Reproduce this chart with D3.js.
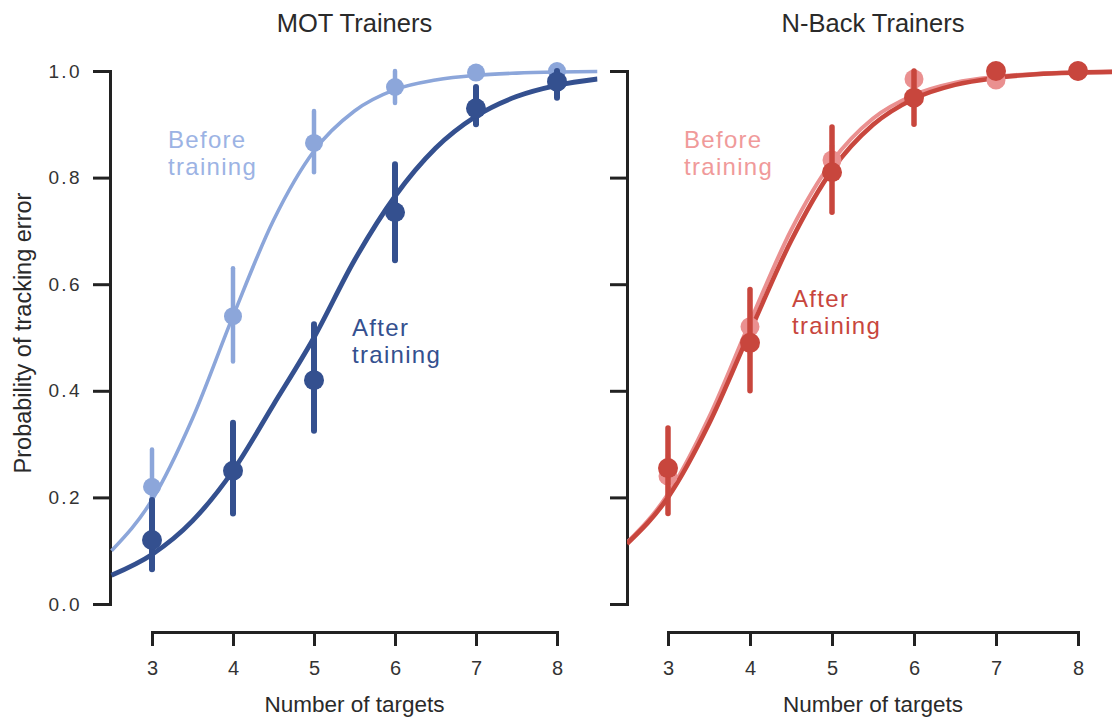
<!DOCTYPE html>
<html>
<head>
<meta charset="utf-8">
<script src="https://cdn.jsdelivr.net/npm/d3@7"></script>
<style>
  body { margin: 0; background: #fff; }
  svg { display: block; }
  .narrow { font-family: "Liberation Sans Narrow", "Arial Narrow", "Liberation Sans", sans-serif; }
</style>
</head>
<body>
<svg id="chart" width="1112" height="717"></svg>
<script>
// Number of targets tracked
const targets = [3, 4, 5, 6, 7, 8];
const yTicks = [0, 0.2, 0.4, 0.6, 0.8, 1.0];

// MOT trainers: observed error probability with error-bar bounds
const motBefore      = [0.22, 0.54, 0.865, 0.97, 0.997, 1.0];
const motBeforeLow   = [0.15, 0.455, 0.81, 0.94, 0.99, 0.995];
const motBeforeHigh  = [0.29, 0.63, 0.925, 1.0, 1.0, 1.0];
const motAfter       = [0.12, 0.25, 0.42, 0.735, 0.93, 0.98];
const motAfterLow    = [0.065, 0.17, 0.325, 0.645, 0.9, 0.95];
const motAfterHigh   = [0.195, 0.34, 0.525, 0.825, 0.97, 1.0];

// N-Back trainers
const nbBefore       = [0.24, 0.52, 0.833, 0.985, 0.983, 1.0];
const nbBeforeLow    = [0.2, 0.47, 0.8, 0.97, 0.975, 0.995];
const nbBeforeHigh   = [0.28, 0.57, 0.86, 1.0, 0.99, 1.0];
const nbAfter        = [0.255, 0.49, 0.81, 0.95, 1.0, 1.0];
const nbAfterLow     = [0.17, 0.40, 0.735, 0.90, 0.99, 0.99];
const nbAfterHigh    = [0.33, 0.59, 0.895, 1.0, 1.0, 1.0];

// Fitted psychometric curves, sampled along the x range
const fitX            = [2.5, 3, 3.5, 4, 4.5, 5, 5.5, 6, 6.5, 7, 7.5, 8, 8.5];
const motBeforeFit    = [0.10, 0.195, 0.348, 0.54, 0.72, 0.85, 0.925, 0.965, 0.983, 0.992, 0.996, 0.998, 0.999];
const motAfterFit     = [0.054, 0.093, 0.156, 0.25, 0.374, 0.50, 0.645, 0.765, 0.855, 0.915, 0.952, 0.973, 0.985];
const nbBeforeFit     = [0.115, 0.206, 0.350, 0.529, 0.701, 0.830, 0.911, 0.955, 0.978, 0.989, 0.995, 0.9975, 0.9988];
const nbAfterFit      = [0.113, 0.200, 0.338, 0.511, 0.681, 0.814, 0.899, 0.948, 0.974, 0.987, 0.994, 0.997, 0.9985];

const colors = {
  motBefore: "#8ca6da",
  motAfter: "#34508f",
  nbBefore: "#ea9090",
  nbAfter: "#c8463d"
};

const sans = "Liberation Sans, Arial, Helvetica, sans-serif";
const svg = d3.select("#chart");
const y = d3.scaleLinear().domain([0, 1]).range([604, 71]);

const panels = [
  {
    title: "MOT Trainers",
    x: d3.scaleLinear().domain([3, 8]).range([152, 557]),
    yAxisX: 110,
    showYLabels: true,
    series: [
      { fitY: motBeforeFit, v: motBefore, lo: motBeforeLow, hi: motBeforeHigh, color: colors.motBefore, lw: 3.6, r: 9, ew: 4.5 },
      { fitY: motAfterFit, v: motAfter, lo: motAfterLow, hi: motAfterHigh, color: colors.motAfter, lw: 4.8, r: 10, ew: 6 }
    ],
    labels: [
      { lines: ["Before", "training"], x: 168, y: 148, color: "#9cb3e4" },
      { lines: ["After", "training"], x: 352, y: 336, color: "#34508f" }
    ]
  },
  {
    title: "N-Back Trainers",
    x: d3.scaleLinear().domain([3, 8]).range([668, 1078]),
    yAxisX: 627,
    showYLabels: false,
    series: [
      { fitY: nbBeforeFit, v: nbBefore, lo: nbBeforeLow, hi: nbBeforeHigh, color: colors.nbBefore, lw: 4, r: 9.5, ew: 4.5 },
      { fitY: nbAfterFit, v: nbAfter, lo: nbAfterLow, hi: nbAfterHigh, color: colors.nbAfter, lw: 4.6, r: 10, ew: 5.5 }
    ],
    labels: [
      { lines: ["Before", "training"], x: 684, y: 148, color: "#f09a9a" },
      { lines: ["After", "training"], x: 792, y: 307, color: "#c8463d" }
    ]
  }
];

panels.forEach(p => {
  const x = p.x;

  // Panel title
  svg.append("text")
    .attr("x", (x(3) + x(8)) / 2)
    .attr("y", 32)
    .attr("text-anchor", "middle")
    .attr("font-family", sans)
    .attr("font-size", 25.5)
    .attr("fill", "#2a2a2a")
    .text(p.title);

  // Y axis
  const yAxis = d3.axisLeft(y).tickValues(yTicks).tickSize(17).tickSizeOuter(17).tickPadding(11)
    .tickFormat(p.showYLabels ? d3.format(".1f") : () => "");
  const gy = svg.append("g").attr("transform", `translate(${p.yAxisX},0)`).call(yAxis);
  gy.select(".domain").attr("stroke", "#222").attr("stroke-width", 3);
  gy.selectAll(".tick line").attr("stroke", "#222").attr("stroke-width", 3);
  gy.selectAll(".tick text")
    .attr("font-family", sans)
    .attr("font-size", 19)
    .attr("letter-spacing", 2.4)
    .attr("fill", "#333");

  // X axis
  const xAxis = d3.axisBottom(x).tickValues(targets).tickSize(14).tickSizeOuter(14).tickPadding(15)
    .tickFormat(d3.format("d"));
  const gx = svg.append("g").attr("transform", "translate(0,632)").call(xAxis);
  gx.select(".domain").attr("stroke", "#222").attr("stroke-width", 3);
  gx.selectAll(".tick line").attr("stroke", "#222").attr("stroke-width", 3);
  gx.selectAll(".tick text")
    .attr("class", "narrow")
    .attr("font-size", 20)
    .attr("fill", "#333");

  svg.append("text")
    .attr("class", "narrow")
    .attr("x", (x(3) + x(8)) / 2)
    .attr("y", 712)
    .attr("text-anchor", "middle")
    .attr("font-size", 22.5)
    .attr("fill", "#2a2a2a")
    .text("Number of targets");

  // Clip curves at the panel edges
  const clipId = "clip-" + p.yAxisX;
  svg.append("clipPath").attr("id", clipId)
    .append("rect")
    .attr("x", p.yAxisX).attr("y", 40)
    .attr("width", x(8.5) - p.yAxisX).attr("height", 580);

  const line = d3.line()
    .x((d, i) => x(fitX[i]))
    .y(d => y(d))
    .curve(d3.curveMonotoneX);

  // Fitted curves
  p.series.forEach(s => {
    svg.append("path")
      .datum(s.fitY)
      .attr("clip-path", `url(#${clipId})`)
      .attr("d", line)
      .attr("fill", "none")
      .attr("stroke", s.color)
      .attr("stroke-width", s.lw);
  });

  // Error bars and points
  p.series.forEach(s => {
    const g = svg.append("g");
    g.selectAll("line")
      .data(targets)
      .join("line")
      .attr("x1", d => x(d)).attr("x2", d => x(d))
      .attr("y1", (d, i) => y(s.lo[i]))
      .attr("y2", (d, i) => y(s.hi[i]))
      .attr("stroke", s.color)
      .attr("stroke-width", s.ew)
      .attr("stroke-linecap", "round");
    g.selectAll("circle")
      .data(targets)
      .join("circle")
      .attr("cx", d => x(d))
      .attr("cy", (d, i) => y(s.v[i]))
      .attr("r", s.r)
      .attr("fill", s.color);
  });

  // Series labels
  p.labels.forEach(l => {
    const t = svg.append("text")
      .attr("font-family", sans)
      .attr("font-size", 24)
      .attr("letter-spacing", 1.3)
      .attr("fill", l.color);
    l.lines.forEach((ln, i) => {
      t.append("tspan").attr("x", l.x).attr("y", l.y + i * 27).text(ln);
    });
  });
});

// Shared y-axis title
svg.append("text")
  .attr("transform", "translate(31,333) rotate(-90)")
  .attr("text-anchor", "middle")
  .attr("font-family", sans)
  .attr("font-size", 23.5)
  .attr("fill", "#2a2a2a")
  .text("Probability of tracking error");
</script>
</body>
</html>
